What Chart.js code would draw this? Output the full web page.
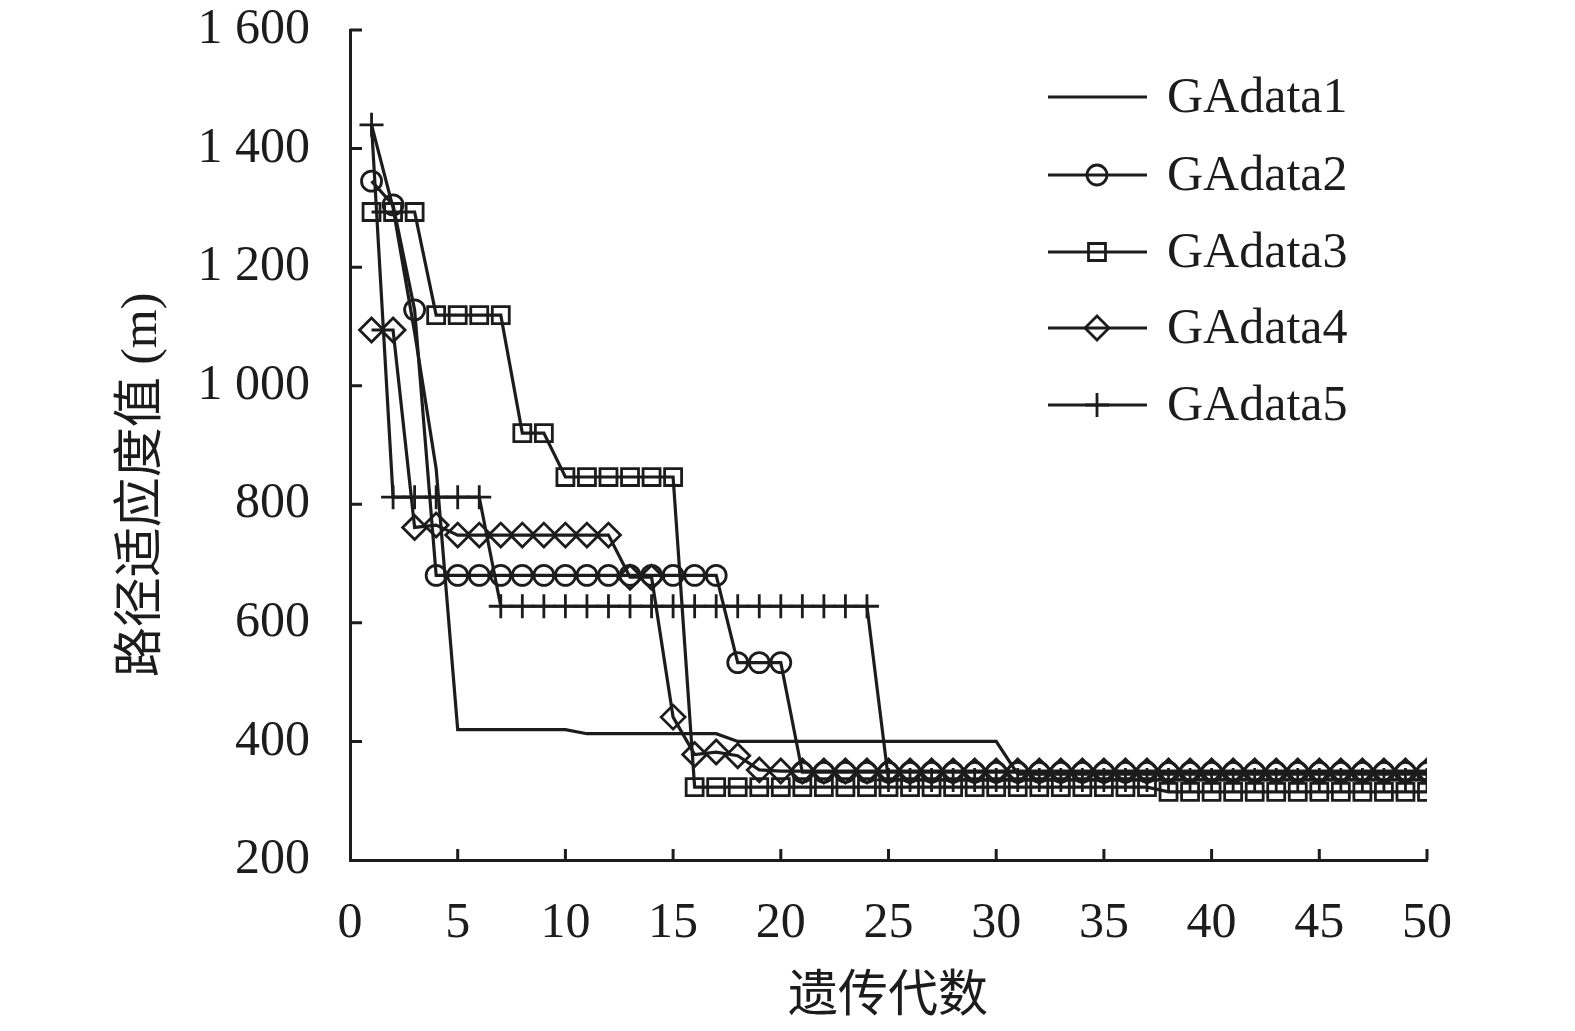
<!DOCTYPE html>
<html>
<head>
<meta charset="utf-8">
<script src="https://cdn.jsdelivr.net/npm/chart.js@4/dist/chart.umd.min.js"></script>
<style>
  html, body { margin: 0; padding: 0; background: #fff; overflow: hidden; }
  canvas { display: block; }
</style>
</head>
<body>
<canvas id="ga-chart" width="1575" height="1031" style="width:1575px;height:1031px"></canvas>
<script>
// generations 1..50
var generations = [];
for (var g = 1; g <= 50; g++) generations.push(g);

var GAdata1 = [1440, 1300, 1090, 860, 420, 420, 420, 420, 420, 420,
  413, 413, 413, 413, 413, 413, 413, 400, 400, 400,
  400, 400, 400, 400, 400, 400, 400, 400, 400, 400,
  345, 345, 345, 345, 345, 345, 345, 345, 345, 345,
  345, 345, 345, 345, 345, 345, 345, 345, 345, 345];
var GAdata2 = [1345, 1305, 1128, 680, 680, 680, 680, 680, 680, 680,
  680, 680, 680, 680, 680, 680, 680, 533, 533, 533,
  348, 348, 348, 348, 348, 348, 348, 348, 348, 348,
  348, 348, 348, 348, 348, 348, 348, 348, 348, 348,
  348, 348, 348, 348, 348, 348, 348, 348, 348, 348];
var GAdata3 = [1293, 1293, 1293, 1119, 1119, 1119, 1119, 920, 920, 846,
  846, 846, 846, 846, 846, 323, 323, 323, 323, 323,
  323, 323, 323, 323, 323, 323, 323, 323, 323, 323,
  323, 323, 323, 323, 323, 323, 323, 315, 315, 315,
  315, 315, 315, 315, 315, 315, 315, 315, 315, 315];
var GAdata4 = [1094, 1094, 761, 765, 748, 748, 748, 748, 748, 748,
  748, 748, 677, 677, 441, 378, 382, 376, 352, 350,
  350, 350, 350, 350, 350, 350, 350, 350, 350, 350,
  350, 350, 350, 350, 350, 350, 350, 350, 350, 350,
  350, 350, 350, 350, 350, 350, 350, 350, 350, 350];
var GAdata5 = [1440, 812, 812, 812, 812, 812, 628, 628, 628, 628,
  628, 628, 628, 628, 628, 628, 628, 628, 628, 628,
  628, 628, 628, 628, 335, 335, 335, 335, 335, 335,
  335, 335, 335, 335, 335, 335, 335, 335, 335, 335,
  335, 335, 335, 335, 335, 335, 335, 335, 335, 335];

var seriesNames = ['GAdata1', 'GAdata2', 'GAdata3', 'GAdata4', 'GAdata5'];
var seriesValues = [GAdata1, GAdata2, GAdata3, GAdata4, GAdata5];
var seriesMarkers = [false, 'circle', 'rect', 'rectRot', 'cross'];
var markerRadius = [0, 10, 12, 12, 12];

var xTitle = '遗传代数';
var yTitle = '路径适应度值 (m)';

var ink = '#1c1c1c';
var serif = '"Liberation Serif", "Noto Sans CJK SC", serif';

function toPoints(values)
{
  return values.map(function (v, i) { return { x: generations[i], y: v }; });
}

var datasets = seriesNames.map(function (name, i) {
  return {
    label: name,
    data: toPoints(seriesValues[i]),
    borderColor: ink,
    backgroundColor: 'rgba(0,0,0,0)',
    borderWidth: 3.2,
    tension: 0,
    pointStyle: seriesMarkers[i],
    pointRadius: markerRadius[i],
    pointBorderWidth: 2.8,
    pointBorderColor: ink,
    pointBackgroundColor: 'rgba(0,0,0,0)'
  };
});

// inner ticks, axis titles and legend
var decorations = {
  id: 'decorations',
  afterDraw: function (chart)
  {
    var ctx = chart.ctx;
    var xs = chart.scales.x, ys = chart.scales.y;
    var area = chart.chartArea;
    ctx.save();
    ctx.strokeStyle = ink;
    ctx.lineWidth = 3;
    ctx.beginPath();
    for (var v = 5; v <= 50; v += 5) {
      var px = xs.getPixelForValue(v);
      ctx.moveTo(px, area.bottom);
      ctx.lineTo(px, area.bottom - 11);
    }
    for (var w = 400; w <= 1600; w += 200) {
      var py = ys.getPixelForValue(w);
      ctx.moveTo(area.left, py);
      ctx.lineTo(area.left + 12, py);
    }
    ctx.stroke();

    ctx.fillStyle = ink;
    ctx.font = '50px ' + serif;
    ctx.textAlign = 'center';
    ctx.textBaseline = 'middle';
    ctx.fillText(xTitle, 888, 998);
    ctx.save();
    ctx.translate(143, 485);
    ctx.rotate(-Math.PI / 2);
    ctx.fillText(yTitle, 0, 0);
    ctx.restore();

    // legend
    var rowY = [97, 175, 252, 328, 405];
    ctx.textAlign = 'left';
    for (var i = 0; i < seriesNames.length; i++) {
      ctx.lineWidth = 3.2;
      ctx.beginPath();
      ctx.moveTo(1048, rowY[i]);
      ctx.lineTo(1147, rowY[i]);
      ctx.stroke();
      if (seriesMarkers[i]) {
        ctx.save();
        ctx.lineWidth = 2.8;
        ctx.fillStyle = 'rgba(0,0,0,0)';
        Chart.helpers.drawPoint(ctx, {
          pointStyle: seriesMarkers[i],
          radius: markerRadius[i],
          rotation: 0,
          borderWidth: 2.8
        }, 1097, rowY[i]);
        ctx.restore();
      }
      ctx.fillStyle = ink;
      ctx.fillText(seriesNames[i], 1167, rowY[i] + 2);
    }
    ctx.restore();
  }
};

var ga_chart = new Chart(document.getElementById('ga-chart'), {
  type: 'line',
  data: { labels: generations, datasets: datasets },
  options: {
    animation: false,
    responsive: false,
    devicePixelRatio: 1,
    layout: { padding: { top: 30, right: 148, left: 0, bottom: 0 } },
    plugins: {
      legend: { display: false },
      tooltip: { enabled: false }
    },
    scales: {
      x: {
        type: 'linear',
        min: 0,
        max: 50,
        afterFit: function (scale) {
          scale.height = 171;
          scale.paddingLeft = 0;
          scale.paddingRight = 0;
        },
        grid: { display: false, drawTicks: false },
        border: { display: true, color: ink, width: 3 },
        ticks: {
          stepSize: 5,
          padding: 34,
          maxRotation: 0,
          color: ink,
          font: { family: serif, size: 50 }
        }
      },
      y: {
        min: 200,
        max: 1600,
        afterFit: function (scale) {
          scale.width = 350;
          scale.paddingTop = 0;
          scale.paddingBottom = 0;
        },
        grid: { display: false, drawTicks: false },
        border: { display: true, color: ink, width: 3 },
        ticks: {
          stepSize: 200,
          padding: 40,
          color: ink,
          font: { family: serif, size: 50 },
          callback: function (value) {
            return value >= 1000 ? Math.floor(value / 1000) + ' ' + String(value % 1000).padStart(3, '0') : String(value);
          }
        }
      }
    }
  },
  plugins: [decorations]
});
</script>
</body>
</html>
